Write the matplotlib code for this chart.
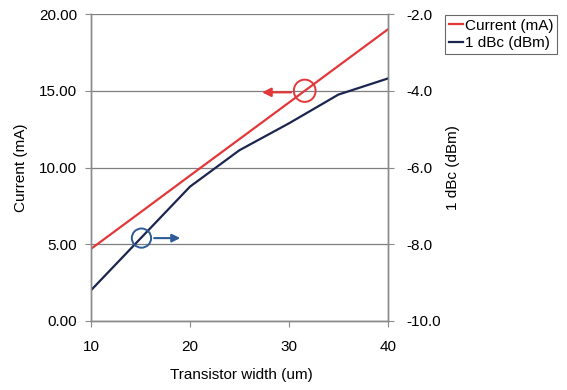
import matplotlib
matplotlib.use("Agg")
import matplotlib.pyplot as plt
from matplotlib.patches import Ellipse

plt.rcParams['font.family'] = ['Liberation Sans', 'DejaVu Sans']

width_um = [10, 15, 20, 25, 30, 35, 40]
current_ma = [4.70, 7.08, 9.47, 11.85, 14.23, 16.62, 19.00]
p1db_dbm = [-9.2, -7.85, -6.5, -5.55, -4.85, -4.1, -3.68]

left_ticks = [0, 5, 10, 15, 20]
right_ticks = [-10, -8, -6, -4, -2]
x_ticks = [10, 20, 30, 40]

red = '#e2383a'
navy = '#1c2550'
circle_blue = '#2d5b98'
grey = '#8a8a8a'

fig = plt.figure(figsize=(5.67, 3.90), dpi=100)
ax = fig.add_axes([0.1605, 0.177, 0.5235, 0.787])
ax2 = ax.twinx()

ax.set_xlim(10, 40)
ax.set_ylim(0, 20)
ax2.set_ylim(-10, -2)

ax.set_yticks(left_ticks)
ax.set_yticklabels([f"{v:.2f}" for v in left_ticks])
ax2.set_yticks(right_ticks)
ax2.set_yticklabels([f"{v:.1f}" for v in right_ticks])
ax.set_xticks(x_ticks)

ax.grid(axis='y', color='#7f7f7f', linewidth=0.9)
ax.set_axisbelow(True)

for a in (ax, ax2):
    for s in a.spines.values():
        s.set_color(grey)
        s.set_linewidth(1.0)
    a.spines['top'].set_visible(False)
    a.tick_params(colors=grey, labelcolor='black', labelsize=11, length=4, width=0.8)
ax.tick_params(axis='x', pad=10)
ax.tick_params(axis='y', pad=6)
ax2.tick_params(axis='y', pad=9)

l1, = ax.plot(width_um, current_ma, color=red, linewidth=1.6, label='Current (mA)')
l2, = ax2.plot(width_um, p1db_dbm, color=navy, linewidth=1.6, label='1 dBc (dBm)')

ax.set_xlabel('Transistor width (um)', fontsize=11)
ax.set_ylabel('Current (mA)', fontsize=11)
ax2.set_ylabel('1 dBc (dBm)', fontsize=11)
ax.xaxis.set_label_coords(0.505, -0.153)
ax.yaxis.set_label_coords(-0.212, 0.5)
ax2.yaxis.set_label_coords(1.195, 0.5)

# marker circles with arrows pointing to each curve's axis
ax.add_patch(Ellipse((31.6, 15.0), 2.2, 1.45, fill=False, edgecolor=red, linewidth=1.4, zorder=5))
ax.annotate('', xy=(27.0, 14.9), xytext=(30.5, 14.9),
            arrowprops=dict(arrowstyle='-|>', color=red, lw=1.6, mutation_scale=13), zorder=5)
ax2.add_patch(Ellipse((15.1, -7.84), 1.95, 0.5, fill=False, edgecolor=circle_blue, linewidth=1.4, zorder=5))
ax2.annotate('', xy=(19.3, -7.84), xytext=(16.1, -7.84),
             arrowprops=dict(arrowstyle='-|>', color=circle_blue, lw=1.5, mutation_scale=12), zorder=5)

leg = fig.legend(handles=[l1, l2], loc='upper left', bbox_to_anchor=(445 / 567, 1 - 15 / 390),
                 fontsize=11, frameon=True, fancybox=False, handlelength=0.9, handletextpad=0.15,
                 borderpad=0.25, labelspacing=0.2, borderaxespad=0)
leg.get_frame().set_edgecolor('#444444')
leg.get_frame().set_linewidth(0.8)

fig.savefig('out.png', dpi=100)
